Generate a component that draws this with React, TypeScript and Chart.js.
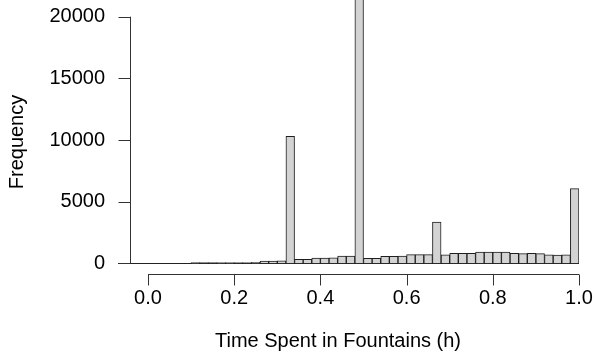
import React, { useEffect, useRef } from "react";
import { Chart, registerables } from "chart.js";

Chart.register(...registerables);

// Histogram bins (centres of 0.02-wide bins from 0.0 to 1.0)
const binCenters = [
  0.01, 0.03, 0.05, 0.07, 0.09, 0.11, 0.13, 0.15, 0.17, 0.19,
  0.21, 0.23, 0.25, 0.27, 0.29, 0.31, 0.33, 0.35, 0.37, 0.39,
  0.41, 0.43, 0.45, 0.47, 0.49, 0.51, 0.53, 0.55, 0.57, 0.59,
  0.61, 0.63, 0.65, 0.67, 0.69, 0.71, 0.73, 0.75, 0.77, 0.79,
  0.81, 0.83, 0.85, 0.87, 0.89, 0.91, 0.93, 0.95, 0.97, 0.99,
];

const frequencies = [
  0, 0, 0, 0, 0, 50, 55, 55, 60, 60,
  65, 65, 70, 180, 190, 200, 10300, 320, 330, 430,
  430, 440, 580, 590, 22500, 400, 410, 560, 570, 580,
  700, 710, 700, 3350, 680, 800, 800, 810, 910, 920,
  910, 910, 800, 790, 800, 790, 680, 670, 680, 6050,
];

const xTicks = [0, 0.2, 0.4, 0.6, 0.8, 1.0];
const xTickLabels = ["0.0", "0.2", "0.4", "0.6", "0.8", "1.0"];
const yTicks = [0, 5000, 10000, 15000, 20000];
const yTickLabels = ["0", "5000", "10000", "15000", "20000"];
const xTitle = "Time Spent in Fountains (h)";
const yTitle = "Frequency";

const Y_MAX = 21354;
const FONT = '20px "Liberation Sans", Arial, sans-serif';

function drawText(
  ctx: CanvasRenderingContext2D,
  text: string,
  x: number,
  y: number,
  align: CanvasTextAlign,
  rotate = false
) {
  ctx.save();
  ctx.translate(x, y);
  if (rotate) ctx.rotate(-Math.PI / 2);
  ctx.font = FONT;
  ctx.fillStyle = "#000";
  ctx.textAlign = align;
  ctx.textBaseline = "middle";
  ctx.fillText(text, 0, 0);
  ctx.restore();
}

const rAxesPlugin = {
  id: "rAxes",
  beforeDatasetsDraw(chart: any) {
    const ctx = chart.ctx as CanvasRenderingContext2D;
    const xs = chart.scales.x;
    const ys = chart.scales.y;
    const y0 = ys.getPixelForValue(0);
    ctx.save();
    ctx.strokeStyle = "#222";
    ctx.lineWidth = 1;
    ctx.beginPath();
    ctx.moveTo(118, Math.round(y0) + 0.5);
    ctx.lineTo(xs.getPixelForValue(1.0), Math.round(y0) + 0.5);
    ctx.stroke();
    ctx.restore();
  },
  afterDraw(chart: any) {
    const ctx = chart.ctx as CanvasRenderingContext2D;
    const xs = chart.scales.x;
    const ys = chart.scales.y;
    ctx.save();
    ctx.strokeStyle = "#333";
    ctx.lineWidth = 1;

    // x axis (offset below plot, R style)
    const axY = 274.5;
    const x0 = xs.getPixelForValue(xTicks[0]);
    const x1 = xs.getPixelForValue(xTicks[xTicks.length - 1]);
    ctx.beginPath();
    ctx.moveTo(x0, axY);
    ctx.lineTo(x1, axY);
    xTicks.forEach((t) => {
      const px = Math.round(xs.getPixelForValue(t)) + 0.5;
      ctx.moveTo(px, axY);
      ctx.lineTo(px, axY + 11);
    });
    ctx.stroke();
    xTicks.forEach((t, i) => {
      drawText(ctx, xTickLabels[i], xs.getPixelForValue(t), 298, "center");
    });
    drawText(ctx, xTitle, 338, 341, "center");

    // y axis
    const axX = 130.5;
    const yA = ys.getPixelForValue(yTicks[0]);
    const yB = ys.getPixelForValue(yTicks[yTicks.length - 1]);
    ctx.beginPath();
    ctx.moveTo(axX, yA);
    ctx.lineTo(axX, yB);
    yTicks.forEach((t) => {
      const py = Math.round(ys.getPixelForValue(t)) + 0.5;
      ctx.moveTo(axX, py);
      ctx.lineTo(axX - 12, py);
    });
    ctx.stroke();
    yTicks.forEach((t, i) => {
      drawText(ctx, yTickLabels[i], 105, ys.getPixelForValue(t), "right");
    });
    drawText(ctx, yTitle, 17, 142, "center", true);
    ctx.restore();
  },
};

export default function App() {
  const ref = useRef<HTMLCanvasElement | null>(null);

  useEffect(() => {
    document.body.style.margin = "0";
    document.body.style.overflow = "hidden";
    const canvas = ref.current;
    if (!canvas) return;
    const chart = new Chart(canvas, {
      type: "bar",
      data: {
        datasets: [
          {
            data: binCenters.map((x, i) => ({ x, y: frequencies[i] })),
            backgroundColor: "#d3d3d3",
            borderColor: "#1e1e1e",
            borderWidth: 1,
            borderSkipped: "start",
            barPercentage: 1,
            categoryPercentage: 1,
          },
        ],
      },
      options: {
        animation: false,
        responsive: false,
        devicePixelRatio: 1,
        layout: { padding: { left: 148, right: 15, top: 0, bottom: 93.7 } },
        plugins: { legend: { display: false }, tooltip: { enabled: false } },
        scales: {
          x: { type: "linear", min: 0, max: 1, offset: false, display: false },
          y: { type: "linear", min: 0, max: Y_MAX, display: false },
        },
      },
      plugins: [rAxesPlugin],
    });
    return () => chart.destroy();
  }, []);

  return <canvas ref={ref} width={594} height={357} style={{ display: "block" }} />;
}
